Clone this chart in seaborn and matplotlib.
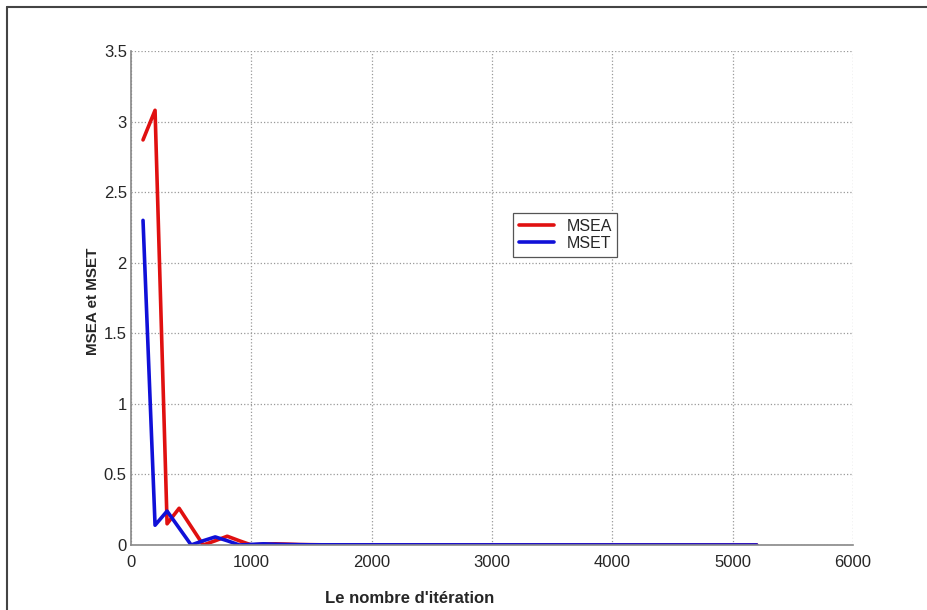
import pandas as pd
import matplotlib.pyplot as plt
import seaborn as sns
from matplotlib.lines import Line2D

iterations = [100, 200, 300, 400, 500, 600, 700, 800, 900, 1000,
              1100, 1200, 1300, 1400, 1500, 1600, 5200]
msea = [2.87, 3.08, 0.15, 0.26, 0.13, 0.0, 0.03, 0.062, 0.03, 0.0,
        0.006, 0.008, 0.006, 0.003, 0.002, 0.001, 0.0]
mset = [2.30, 0.14, 0.24, 0.12, 0.0, 0.03, 0.057, 0.03, 0.0, 0.004,
        0.008, 0.005, 0.003, 0.002, 0.001, 0.001, 0.0]

df = pd.DataFrame({
    "iter": iterations * 2,
    "val": msea + mset,
    "serie": ["MSEA"] * len(msea) + ["MSET"] * len(mset),
})

sns.set_style("white")
plt.rcParams["font.family"] = ["Liberation Sans", "DejaVu Sans"]

fig = plt.figure(figsize=(9.27, 6.10), dpi=100)
ax = fig.add_axes([0.1413, 0.1066, 0.7789, 0.8098])

sns.lineplot(data=df, x="iter", y="val", hue="serie",
             palette={"MSEA": "#e01010", "MSET": "#1010d8"},
             linewidth=2.6, ax=ax)

ax.set_xlim(0, 6000)
ax.set_ylim(0, 3.5)
ax.set_xticks([0, 1000, 2000, 3000, 4000, 5000, 6000])
ax.set_yticks([0, 0.5, 1, 1.5, 2, 2.5, 3, 3.5])
ax.set_yticklabels(["0", "0.5", "1", "1.5", "2", "2.5", "3", "3.5"])
ax.grid(True, linestyle=":", color="#999999", linewidth=0.9)
ax.tick_params(direction="in", length=4, color="#888888", labelsize=12)
ax.tick_params(axis="x", pad=7)
ax.tick_params(axis="y", pad=3)
for s in ["top", "right"]:
    ax.spines[s].set_visible(False)
for s in ["left", "bottom"]:
    ax.spines[s].set_color("#888888")
    ax.spines[s].set_linewidth(1.2)

ax.set_xlabel("Le nombre d'itération", fontsize=12, fontweight="bold")
ax.xaxis.set_label_coords(0.386, -0.093)
ax.set_ylabel("MSEA et MSET", fontsize=11, fontweight="bold")
ax.yaxis.set_label_coords(-0.043, 0.494)

leg = ax.legend(loc="upper left", bbox_to_anchor=(0.529, 0.672), fontsize=11.5,
                fancybox=False, framealpha=1, edgecolor="#555555",
                borderaxespad=0, handlelength=2.2, handletextpad=0.8,
                borderpad=0.35, labelspacing=0.15)
leg.get_frame().set_linewidth(0.9)

# cadre de la figure
fig.add_artist(Line2D([7 / 927, 7 / 927], [0, 1 - 7 / 610], transform=fig.transFigure,
                      color="#444444", linewidth=1.5))
fig.add_artist(Line2D([7 / 927, 1], [1 - 7 / 610, 1 - 7 / 610], transform=fig.transFigure,
                      color="#444444", linewidth=1.5))

fig.savefig("out.png", dpi=100)
